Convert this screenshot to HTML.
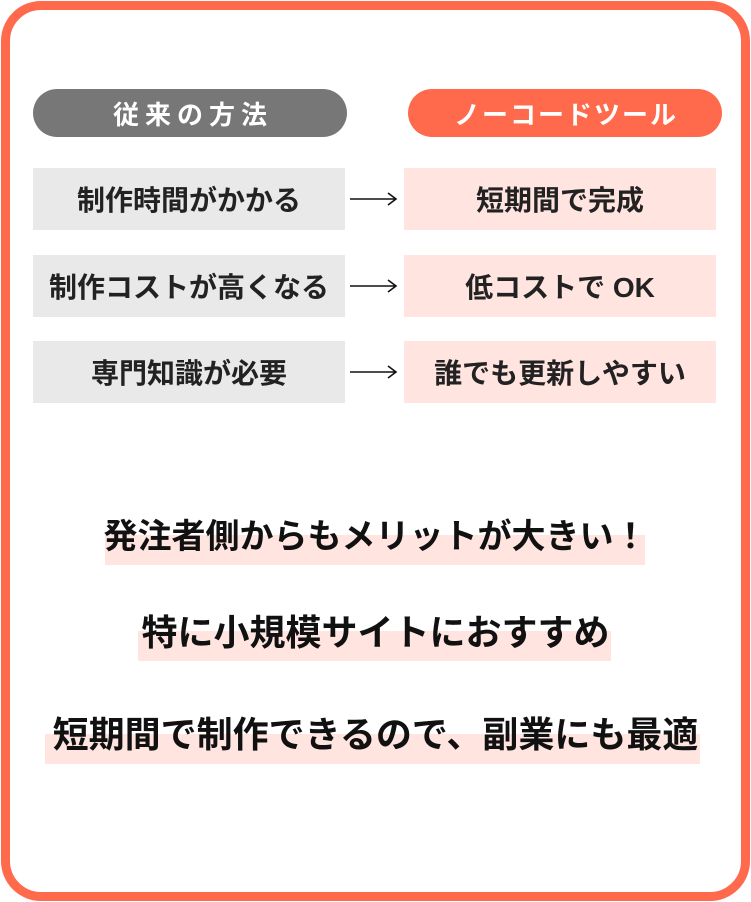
<!DOCTYPE html>
<html><head><meta charset="utf-8"><style>
*{margin:0;padding:0;box-sizing:border-box}
body{width:751px;height:902px;background:#fff;font-family:"Liberation Sans","Noto Sans CJK JP",sans-serif;font-weight:bold;position:relative;overflow:hidden}
.frame{position:absolute;left:1px;top:1px;width:749px;height:900px;border:9px solid #ff6a4d;border-radius:40px}
.pill{position:absolute;top:89px;height:48px;border-radius:24px;color:#fff;font-size:26px;display:flex;align-items:center;justify-content:center}
.box{position:absolute;height:62px;font-size:28px;color:#222;display:flex;align-items:center;justify-content:center;white-space:nowrap}
.l{left:33px;width:312px;background:#e8e9e8}
.r{left:404px;width:312px;background:#ffe4e0}
.arrow{position:absolute;left:350px;width:50px;height:16px}
.hl{position:absolute;height:30px;background:#ffe4e0}
.t{position:absolute;left:0;width:751px;text-align:center;font-size:36px;color:#111;line-height:40px;white-space:nowrap}
</style></head><body>
<div class="frame"></div>
<div class="pill" style="left:33px;width:314px;background:#777;letter-spacing:6px;padding-left:6px">従来の方法</div>
<div class="pill" style="left:408px;width:314px;background:#ff6a4d;letter-spacing:2px;padding-left:2px">ノーコードツール</div>

<div class="box l" style="top:168px">制作時間がかかる</div>
<div class="box r" style="top:168px">短期間で完成</div>
<div class="box l" style="top:255px">制作コストが高くなる</div>
<div class="box r" style="top:255px">低コストで OK</div>
<div class="box l" style="top:341px">専門知識が必要</div>
<div class="box r" style="top:341px">誰でも更新しやすい</div>

<svg class="arrow" style="top:191px" viewBox="0 0 50 16"><path d="M0 8H46M38 2L46 8L38 14" stroke="#111" stroke-width="1.6" fill="none"/></svg>
<svg class="arrow" style="top:278px" viewBox="0 0 50 16"><path d="M0 8H46M38 2L46 8L38 14" stroke="#111" stroke-width="1.6" fill="none"/></svg>
<svg class="arrow" style="top:364px" viewBox="0 0 50 16"><path d="M0 8H46M38 2L46 8L38 14" stroke="#111" stroke-width="1.6" fill="none"/></svg>

<div class="hl" style="left:105px;width:540px;top:535px"></div>
<div class="hl" style="left:138px;width:473px;top:631px"></div>
<div class="hl" style="left:45px;width:655px;top:734px"></div>
<div class="t" style="top:517px;font-size:34px">発注者側からもメリットが大きい！</div>
<div class="t" style="top:613px">特に小規模サイトにおすすめ</div>
<div class="t" style="top:715px">短期間で制作できるので、副業にも最適</div>
</body></html>
